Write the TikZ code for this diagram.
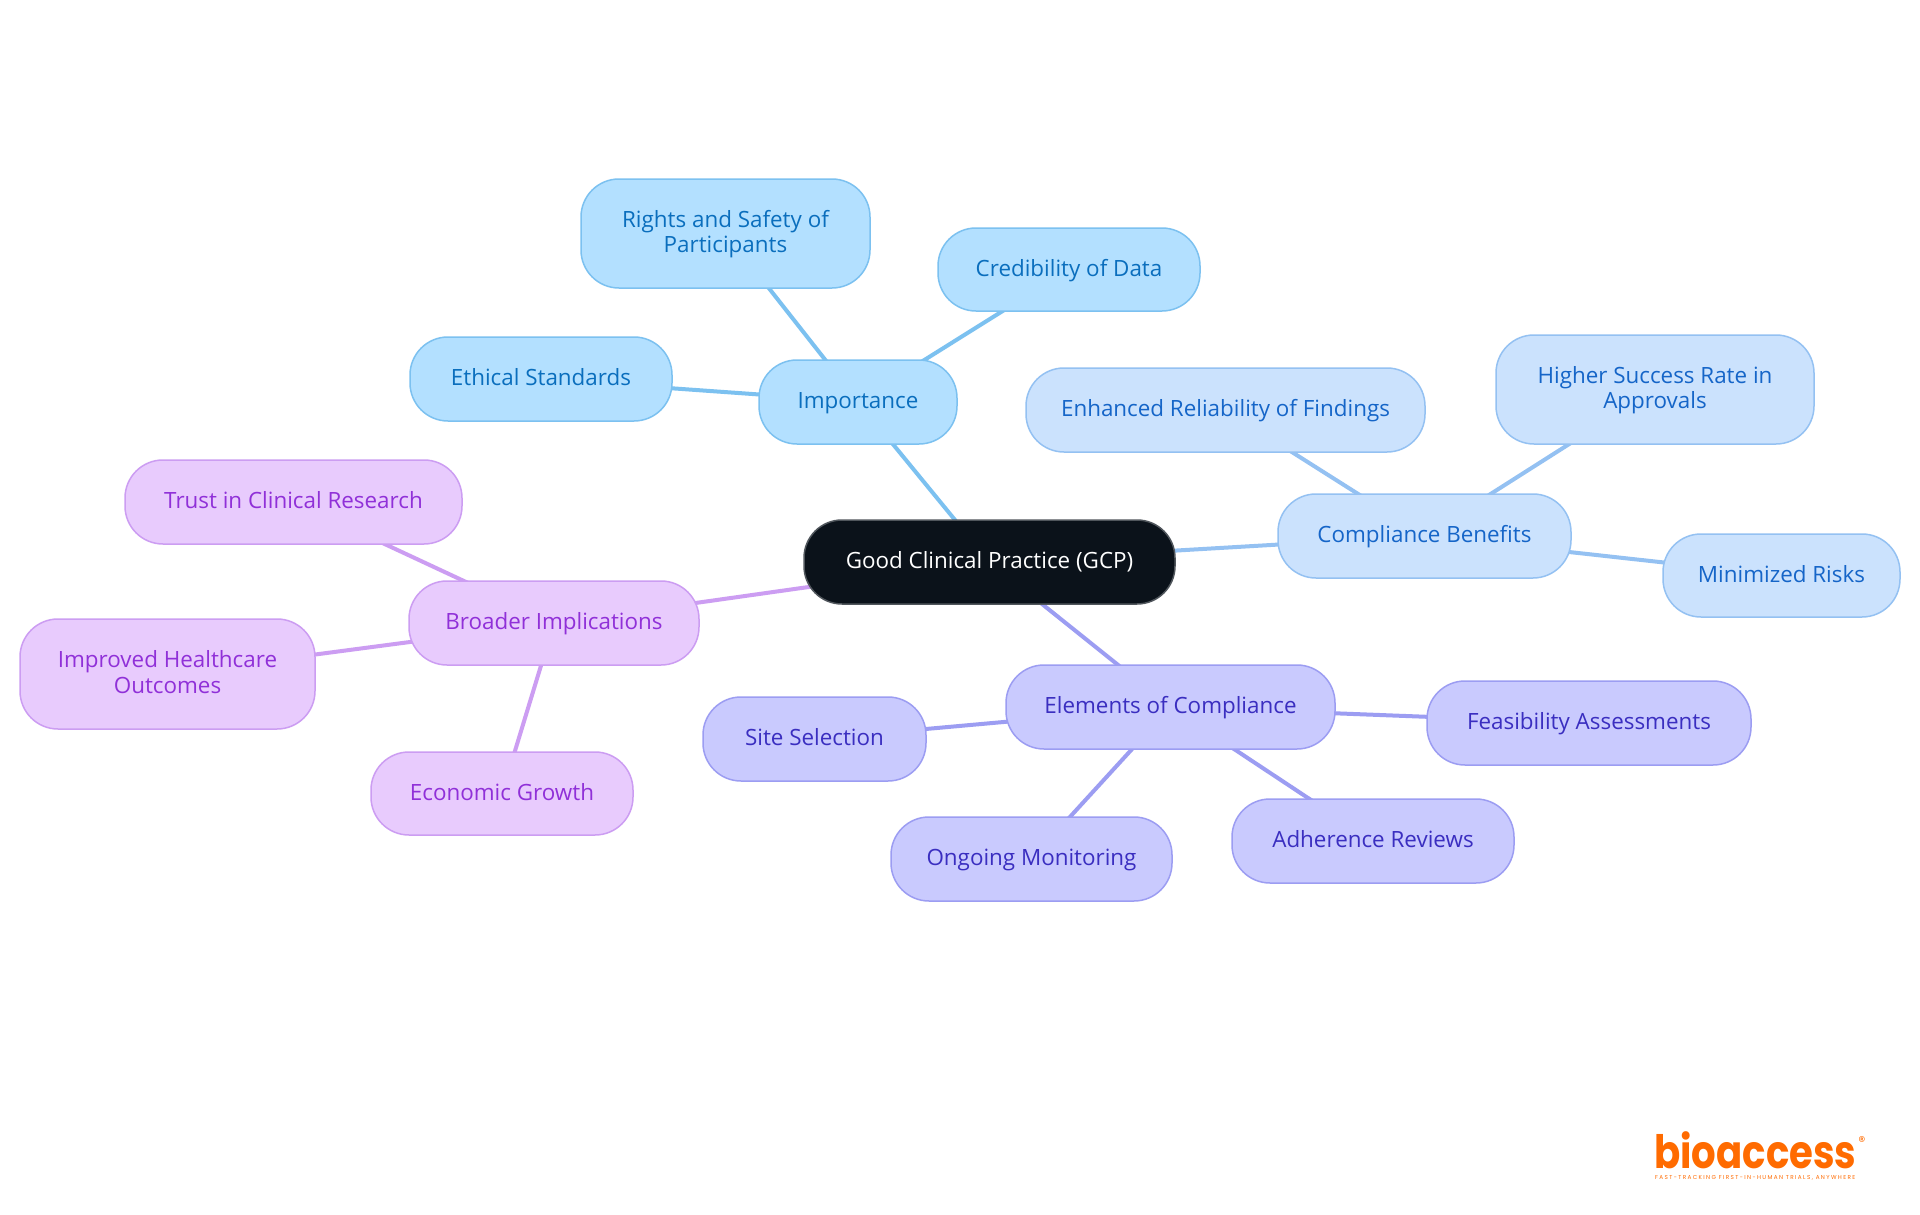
\documentclass[tikz,border=0pt]{standalone}
\usepackage{fontspec}
\setmainfont{Open Sans}
\newfontfamily\logofont{Poppins}
\newfontfamily\tagfont[LetterSpace=24]{Poppins}
\definecolor{rootF}{HTML}{0B121A}\definecolor{rootD}{HTML}{50565C}
\definecolor{aF}{HTML}{B3E0FF}\definecolor{aD}{HTML}{7CC1F0}\definecolor{aT}{HTML}{0A6EBD}
\definecolor{bF}{HTML}{CBE2FD}\definecolor{bD}{HTML}{94C1F2}\definecolor{bT}{HTML}{1565C8}
\definecolor{cF}{HTML}{C9CAFE}\definecolor{cD}{HTML}{9C9DF2}\definecolor{cT}{HTML}{3A2EC0}
\definecolor{dF}{HTML}{E8CBFD}\definecolor{dD}{HTML}{CC9DF2}\definecolor{dT}{HTML}{9030D8}
\definecolor{logoC}{HTML}{FF6B00}
\tikzset{
 x=1pt,y=-1pt,
 box/.style={rounded corners=38pt,line width=1.5pt,align=center,font=\fontsize{22.4}{25.5}\selectfont,inner sep=0pt,anchor=center},
 aN/.style={box,fill=aF,draw=aD,text=aT},
 bN/.style={box,fill=bF,draw=bD,text=bT},
 cN/.style={box,fill=cF,draw=cD,text=cT},
 dN/.style={box,fill=dF,draw=dD,text=dT},
 rN/.style={box,fill=rootF,draw=rootD,text=white},
 edge/.style={line width=4pt},
}
\newcommand{\nd}[7]{\node[#2,minimum width=#5pt-#3pt,minimum height=#6pt-#4pt] (#1) at ({(#3+#5)/2},{(#4+#6)/2}) {\rule{0pt}{20pt}#7\rule[-7pt]{0pt}{7pt}};}
\begin{document}
\begin{tikzpicture}
\useasboundingbox (0,0) rectangle (1920,1215);
\fill[white] (0,0) rectangle (1920,1215);
\coordinate (Rc) at (989,561.5);
\coordinate (Ic) at (858,401.5);
\coordinate (Cc) at (1424.5,536);
\coordinate (Ec) at (1170.5,707);
\coordinate (Bc) at (554,623);
\draw[edge,aD] (Rc)--(Ic);
\draw[edge,bD] (Rc)--(Cc);
\draw[edge,cD] (Rc)--(Ec);
\draw[edge,dD] (Rc)--(Bc);
\draw[edge,aD] (Ic)--(725.5,233) (Ic)--(1069,269.5) (Ic)--(541,379);
\draw[edge,bD] (Cc)--(1225.5,410) (Cc)--(1655,389.5) (Cc)--(1781.5,575.5);
\draw[edge,cD] (Ec)--(814.5,739) (Ec)--(1589,723) (Ec)--(1031.5,859) (Ec)--(1373,841);
\draw[edge,dD] (Bc)--(293.5,501.5) (Bc)--(167.5,674) (Bc)--(502,793.5);
\nd{root}{rN}{804}{520}{1175}{604}{Good Clinical Practice (GCP)}
\nd{imp}{aN}{759}{360}{957}{444}{Importance}
\nd{rights}{aN}{581}{179}{870}{288}{Rights and Safety of\\Participants}
\nd{cred}{aN}{938}{228}{1200}{311}{Credibility of Data}
\nd{eth}{aN}{410}{337}{672}{421}{Ethical Standards}
\nd{comp}{bN}{1278}{494}{1571}{578}{Compliance Benefits}
\nd{enh}{bN}{1026}{368}{1425}{452}{Enhanced Reliability of Findings}
\nd{high}{bN}{1496}{335}{1814}{444}{Higher Success Rate in\\Approvals}
\nd{mini}{bN}{1663}{534}{1900}{617}{Minimized Risks}
\nd{elem}{cN}{1006}{665}{1335}{749}{Elements of Compliance}
\nd{site}{cN}{703}{697}{926}{781}{Site Selection}
\nd{feas}{cN}{1427}{681}{1751}{765}{Feasibility Assessments}
\nd{ong}{cN}{891}{817}{1172}{901}{Ongoing Monitoring}
\nd{adh}{cN}{1232}{799}{1514}{883}{Adherence Reviews}
\nd{broad}{dN}{409}{581}{699}{665}{Broader Implications}
\nd{trust}{dN}{125}{460}{462}{544}{Trust in Clinical Research}
\nd{impr}{dN}{20}{619}{315}{729}{Improved Healthcare\\Outcomes}
\nd{econ}{dN}{371}{752}{633}{835}{Economic Growth}
\node[inner sep=0pt,anchor=base west,text=logoC,font=\logofont\bfseries\fontsize{46}{46}\selectfont] (logo) at (1654,1168) {\scalebox{0.84}[1]{bioaccess}};
\node[inner sep=0pt,anchor=base west,text=logoC,font=\tagfont\fontsize{5.7}{6}\selectfont] (tag) at (1655,1179) {FAST-TRACKING FIRST-IN-HUMAN TRIALS, ANYWHERE};
\node[inner sep=0pt,anchor=center,text=logoC,font=\logofont\fontsize{14}{14}\selectfont] (reg) at (1862,1142) {®};
\end{tikzpicture}
\end{document}
